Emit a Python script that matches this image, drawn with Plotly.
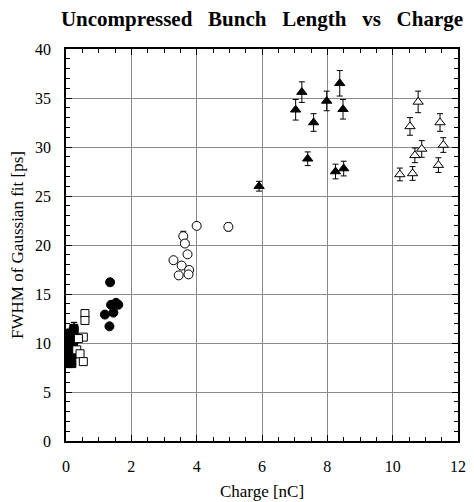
import plotly.graph_objects as go

# Filled squares (lowest charge)
sq_f_q = [0.08, 0.10, 0.12, 0.14, 0.15, 0.17, 0.18, 0.20, 0.21, 0.22, 0.24, 0.25, 0.10, 0.13, 0.16, 0.19, 0.23, 0.26, 0.12, 0.18, 0.27, 0.09]
sq_f_v = [7.9, 8.3, 8.6, 9.0, 9.4, 9.8, 10.2, 10.5, 10.9, 11.2, 11.5, 11.3, 9.7, 10.6, 8.1, 8.8, 9.6, 10.4, 11.0, 7.9, 9.2, 10.1]
sq_f_e = [0.3, 0.3, 0.3, 0.3, 0.3, 0.3, 0.3, 0.4, 0.4, 0.4, 0.6, 0.8, 0.3, 0.3, 0.3, 0.3, 0.3, 0.4, 0.4, 0.3, 0.3, 0.3]

# Open squares
sq_o_q = [0.58, 0.58, 0.53, 0.38, 0.33, 0.43, 0.53]
sq_o_v = [13.0, 12.3, 10.6, 10.45, 9.3, 8.9, 8.1]
sq_o_e = [0.3, 0.3, 0.2, 0.2, 0.2, 0.2, 0.2]

# Filled circles
ci_f_q = [1.35, 1.53, 1.60, 1.38, 1.45, 1.19, 1.33]
ci_f_v = [16.2, 14.1, 13.9, 13.9, 13.1, 12.9, 11.7]
ci_f_e = [0.2, 0.2, 0.2, 0.2, 0.2, 0.2, 0.2]

# Open circles
ci_o_q = [4.0, 4.97, 3.59, 3.64, 3.72, 3.29, 3.54, 3.77, 3.45, 3.75]
ci_o_v = [21.95, 21.85, 20.9, 20.15, 19.05, 18.45, 17.9, 17.45, 16.9, 17.0]
ci_o_e = [0.2, 0.4, 0.5, 0.3, 0.3, 0.2, 0.2, 0.2, 0.2, 0.2]

# Filled triangles
tr_f_q = [5.91, 7.03, 7.22, 7.40, 7.58, 7.98, 8.25, 8.38, 8.48, 8.50]
tr_f_v = [26.0, 33.8, 35.6, 28.8, 32.5, 34.7, 27.5, 36.5, 33.85, 27.8]
tr_f_e = [0.5, 1.05, 1.05, 0.7, 0.9, 1.0, 0.75, 1.3, 1.0, 0.75]

# Open triangles
tr_o_q = [10.78, 10.53, 11.45, 10.89, 10.68, 11.55, 11.40, 10.22, 10.61]
tr_o_v = [34.6, 32.1, 32.5, 29.8, 29.15, 30.2, 28.15, 27.2, 27.3]
tr_o_e = [1.1, 0.9, 0.9, 0.85, 0.75, 0.75, 0.75, 0.65, 0.7]

FONT = "Liberation Serif"

fig = go.Figure()

def add(q, v, e, symbol, size, filled):
    fig.add_trace(go.Scatter(
        x=q, y=v, mode="markers",
        error_y=dict(type="data", array=e, visible=True, color="black", thickness=1, width=3),
        marker=dict(symbol=symbol, size=size,
                    color="black" if filled else "white",
                    line=dict(color="black", width=1)),
        showlegend=False,
    ))

add(sq_f_q, sq_f_v, sq_f_e, "square", 8, True)
add(sq_o_q, sq_o_v, sq_o_e, "square", 8, False)
add(ci_f_q, ci_f_v, ci_f_e, "circle", 9, True)
add(ci_o_q, ci_o_v, ci_o_e, "circle", 9, False)
add(tr_f_q, tr_f_v, tr_f_e, "triangle-up", 9, True)
add(tr_o_q, tr_o_v, tr_o_e, "triangle-up", 9, False)

axis_common = dict(
    showline=True, linecolor="black", linewidth=1.5, mirror="ticks",
    ticks="inside", ticklen=6, tickcolor="black", tickwidth=1,
    showgrid=True, gridcolor="#8a8a8a", gridwidth=1,
    zeroline=False, automargin=False,
    tickfont=dict(family=FONT, size=16, color="black"),
)

SP = "&nbsp;&nbsp;"
# the page body adds an 8px offset, so the figure is 8px smaller and margins shifted
fig.update_layout(
    width=466, height=494,
    font=dict(family=FONT, color="black"),
    paper_bgcolor="white", plot_bgcolor="white",
    margin=dict(l=58, r=16, t=41, b=61),
    title=dict(text=f"<b>Uncompressed{SP} Bunch{SP} Length{SP} vs{SP} Charge</b>",
               xref="paper", x=0.5, xanchor="center", y=0.979, yanchor="middle",
               font=dict(family=FONT, size=21, color="black")),
    xaxis=dict(range=[0, 12], dtick=2, ticklabelstandoff=10,
               minor=dict(dtick=0.5, ticks="inside", ticklen=4, tickcolor="black", showgrid=False),
               title=dict(text="Charge [nC]", font=dict(family=FONT, size=17, color="black"), standoff=11),
               **axis_common),
    yaxis=dict(range=[0, 40], dtick=5, ticklabelstandoff=10,
               minor=dict(dtick=1, ticks="inside", ticklen=4, tickcolor="black", showgrid=False),
               title=dict(text="FWHM of Gaussian fit [ps]", font=dict(family=FONT, size=17, color="black"), standoff=9),
               **axis_common),
)

fig.write_html("out.html")
